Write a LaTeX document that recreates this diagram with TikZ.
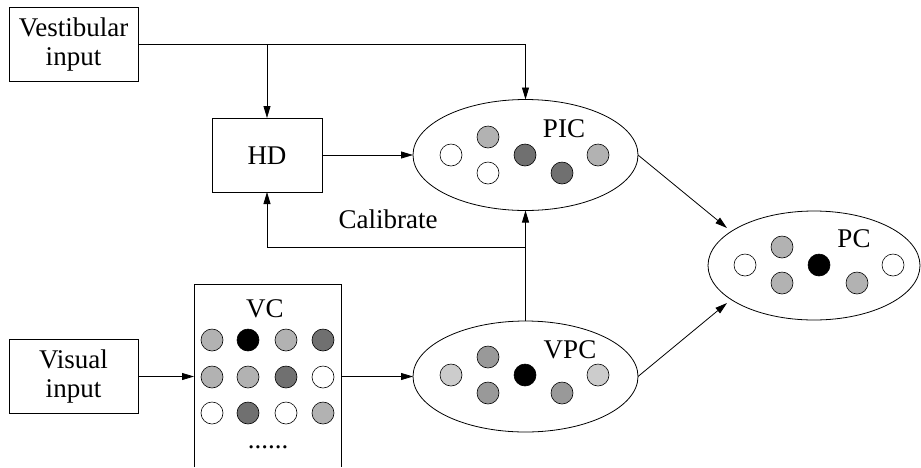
\documentclass[tikz,border=0pt]{standalone}
\usepackage{fontspec}
\setmainfont{Liberation Serif}
\usetikzlibrary{arrows.meta,shapes.geometric}
\begin{document}
\begin{tikzpicture}[x=1pt,y=-1pt,
  line width=0.8pt,
  every node/.style={font=\fontsize{27}{29}\selectfont},
  box/.style={draw,rectangle,inner sep=0pt,outer sep=0pt,align=center},
  ell/.style={draw,ellipse,inner sep=0pt,outer sep=0pt},
  lab/.style={anchor=base,inner sep=0pt},
  dot/.style={draw,circle,inner sep=0pt,outer sep=0pt,minimum size=22pt,line width=0.6pt},
  arr/.style={-{Triangle[length=12pt,width=7pt]}}]
\useasboundingbox (0,0) rectangle (921,467);
% boxes
\node[box,minimum width=129pt,minimum height=74pt] (vest) at (73.5,44.5) {Vestibular\\input};
\node[box,minimum width=129pt,minimum height=74pt] (vis) at (73.5,376.5) {Visual\\input};
\node[box,minimum width=110pt,minimum height=74pt] (hd) at (267,155) {};
\node[lab] (hdl) at (267,164) {HD};
\node[rectangle,inner sep=0pt,outer sep=0pt,minimum width=147pt,minimum height=183pt] (vc) at (267.5,375.5) {};
\draw (vc.south west) |- (vc.north east) -- (vc.south east);
\node[lab] (vcl) at (265,317) {VC};
\node[lab] (vcdots) at (268,448) {......};
% ellipses
\node[ell,minimum width=225pt,minimum height=111pt] (pic) at (525.5,155) {};
\node[ell,minimum width=225pt,minimum height=111pt] (vpc) at (525.5,376.5) {};
\node[ell,minimum width=212pt,minimum height=109pt] (pc) at (814,265.5) {};
\node[lab] (picl) at (564,137) {PIC};
\node[lab] (vpcl) at (570,358) {VPC};
\node[lab] (pcl) at (854,247) {PC};
% PIC cells
\node[dot,fill=white] (p1) at (451,155) {};
\node[dot,fill=black!30] (p2) at (488,137) {};
\node[dot,fill=white] (p3) at (488,173) {};
\node[dot,fill=black!56] (p4) at (525,155) {};
\node[dot,fill=black!56] (p5) at (562,173) {};
\node[dot,fill=black!30] (p6) at (598,155) {};
% VPC cells
\node[dot,fill=black!20] (v1) at (451,375) {};
\node[dot,fill=black!40] (v2) at (488,357) {};
\node[dot,fill=black!40] (v3) at (488,393) {};
\node[dot,fill=black] (v4) at (525,375) {};
\node[dot,fill=black!40] (v5) at (562,393) {};
\node[dot,fill=black!20] (v6) at (598,375) {};
% PC cells
\node[dot,fill=white] (c1) at (745,265) {};
\node[dot,fill=black!30] (c2) at (782,247) {};
\node[dot,fill=black!30] (c3) at (782,283) {};
\node[dot,fill=black] (c4) at (819,265) {};
\node[dot,fill=black!30] (c5) at (857,283) {};
\node[dot,fill=white] (c6) at (893,265) {};
% VC grid
\node[dot,fill=black!30] (g11) at (212,340) {};
\node[dot,fill=black] (g12) at (248,340) {};
\node[dot,fill=black!30] (g13) at (286,340) {};
\node[dot,fill=black!56] (g14) at (323,340) {};
\node[dot,fill=black!30] (g21) at (212,377) {};
\node[dot,fill=black!30] (g22) at (248,377) {};
\node[dot,fill=black!56] (g23) at (286,377) {};
\node[dot,fill=white] (g24) at (323,377) {};
\node[dot,fill=white] (g31) at (212,413) {};
\node[dot,fill=black!56] (g32) at (248,413) {};
\node[dot,fill=white] (g33) at (286,413) {};
\node[dot,fill=black!30] (g34) at (323,413) {};
% connectors
\coordinate (vb) at (hd.north |- vest.east);
\draw[arr] (vest.east) -| (pic.north);
\draw[arr] (vb) -- (hd.north);
\draw[arr] (hd.east) -- (pic.west);
\draw[arr] (vpc.north) -- (pic.south);
\coordinate (cal) at (525.5,247);
\draw[arr] (cal) -| (hd.south);
\node[lab] (calib) at (388,228) {Calibrate};
\draw[arr] (vis.east) -- (vis.east -| vc.west);
\draw[arr] (vc.east |- vpc.west) -- (vpc.west);
\coordinate (pcin1) at (727,228);
\coordinate (pcin2) at (727,303);
\draw[arr] (pic.east) -- (pcin1);
\draw[arr] (vpc.east) -- (pcin2);
\end{tikzpicture}
\end{document}
